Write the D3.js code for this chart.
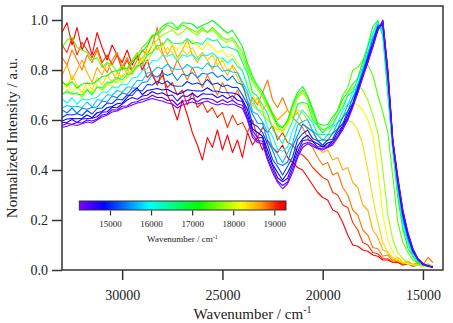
<!DOCTYPE html>
<html><head><meta charset="utf-8">
<script src="https://cdn.jsdelivr.net/npm/d3@7"></script>
<style>
html,body{margin:0;padding:0;background:#fff;}
svg{display:block;font-family:"Liberation Serif","Times New Roman",serif;}
</style></head><body>
<svg id="chart" width="453" height="323"></svg>
<script>
// x grid (cm^-1)
const wavenumber = [33000,32750,32500,32250,32000,31750,31500,31250,31000,30750,
30500,30250,30000,29750,29500,29250,29000,28750,28500,28250,
28000,27750,27500,27250,27000,26750,26500,26250,26000,25750,
25500,25250,25000,24750,24500,24250,24000,23750,23500,23250,
23000,22750,22500,22250,22000,21750,21500,21250,21000,20750,
20500,20250,20000,19750,19500,19250,19000,18750,18500,18250,
18000,17750,17500,17250,17000,16750,16500,16250,16000,15750,
15500,15250,15000,14750,14500];

// colour value (wavenumber) of each spectrum
const excitation = [14253,14450,14650,14850,15100,15400,15700,16000,16500,17050,
17500,17800,18150,18400,18600,18800,19000,19285];

const spec01 = [.570,.575,.582,.578,.585,.592,.588,.600,.612,.620,
.632,.636,.646,.652,.660,.668,.672,.680,.686,.680,
.676,.668,.664,.648,.660,.666,.672,.664,.670,.676,
.666,.660,.666,.660,.664,.656,.646,.600,.530,.510,
.505,.440,.390,.350,.325,.345,.390,.450,.490,.505,
.495,.485,.480,.490,.500,.530,.560,.600,.650,.710,
.770,.830,.890,.960,1.000,.800,.520,.370,.240,.150,
.085,.045,.025,.015,.012];
const spec02 = [.578,.586,.583,.590,.588,.600,.596,.604,.620,.624,
.641,.640,.655,.656,.670,.673,.683,.686,.699,.690,
.690,.678,.680,.659,.676,.677,.687,.673,.685,.686,
.682,.670,.681,.670,.679,.664,.659,.606,.543,.516,
.516,.446,.402,.356,.338,.352,.404,.458,.503,.510,
.504,.486,.487,.491,.507,.531,.568,.602,.657,.709,
.775,.830,.896,.958,.996,.800,.516,.370,.235,.150,
.083,.045,.025,.016,.012];
const spec03 = [.590,.590,.602,.590,.604,.606,.607,.613,.631,.633,
.651,.649,.664,.680,.690,.683,.696,.699,.714,.704,
.709,.697,.700,.676,.697,.694,.707,.691,.705,.703,
.703,.689,.699,.685,.697,.679,.674,.619,.558,.529,
.530,.459,.417,.369,.353,.367,.421,.473,.518,.521,
.514,.492,.494,.496,.515,.537,.576,.608,.663,.712,
.780,.833,.902,.960,.994,.786,.519,.358,.236,.140,
.085,.042,.027,.014,.013];
const spec04 = [.596,.604,.606,.605,.607,.620,.609,.629,.634,.649,
.654,.665,.668,.690,.712,.728,.701,.718,.722,.726,
.720,.723,.712,.703,.709,.721,.718,.716,.716,.729,
.716,.715,.710,.709,.708,.703,.682,.640,.565,.550,
.535,.480,.424,.390,.360,.389,.430,.495,.525,.539,
.515,.505,.492,.508,.515,.551,.576,.621,.661,.723,
.777,.844,.900,.969,.986,.787,.509,.360,.224,.143,
.076,.046,.021,.018,.010];
const spec05 = [.610,.622,.620,.625,.618,.638,.624,.646,.648,.668,
.666,.684,.680,.700,.698,.720,.716,.742,.740,.755,
.744,.756,.738,.735,.736,.754,.743,.748,.740,.762,
.742,.748,.734,.740,.730,.731,.700,.663,.585,.574,
.550,.504,.442,.414,.380,.415,.452,.522,.545,.560,
.526,.517,.499,.520,.523,.564,.585,.635,.668,.731,
.780,.854,.905,.975,.980,.778,.505,.353,.217,.138,
.073,.044,.022,.017,.011];
const spec06 = [.641,.628,.648,.627,.647,.643,.650,.652,.676,.672,
.696,.689,.708,.703,.728,.728,.750,.753,.781,.771,
.789,.778,.787,.758,.784,.777,.790,.768,.787,.783,
.791,.771,.779,.758,.776,.749,.741,.677,.623,.587,
.586,.517,.480,.427,.418,.431,.494,.539,.583,.569,
.554,.517,.521,.518,.547,.564,.610,.635,.689,.726,
.799,.849,.926,.968,.979,.760,.506,.337,.215,.125,
.075,.038,.024,.014,.012];
const spec07 = [.648,.658,.653,.655,.650,.672,.652,.681,.679,.701,
.699,.718,.711,.732,.732,.759,.757,.788,.792,.811,
.805,.823,.806,.803,.804,.822,.808,.812,.804,.827,
.811,.817,.795,.800,.792,.789,.752,.713,.634,.623,
.593,.553,.490,.463,.429,.469,.508,.579,.594,.602,
.556,.540,.518,.541,.545,.588,.609,.660,.685,.745,
.792,.869,.921,.984,.962,.760,.491,.339,.197,.128,
.066,.041,.021,.017,.011];
const spec08 = [.684,.668,.689,.663,.684,.681,.685,.690,.713,.710,
.733,.728,.744,.741,.768,.771,.797,.806,.838,.836,
.858,.855,.863,.835,.861,.854,.863,.842,.859,.858,
.869,.849,.848,.828,.845,.814,.798,.732,.680,.642,
.634,.572,.534,.482,.475,.492,.558,.603,.640,.616,
.588,.542,.543,.541,.572,.590,.638,.663,.710,.740,
.812,.866,.944,.979,.962,.736,.494,.318,.196,.111,
.066,.035,.023,.014,.012];
const spec09 = [.704,.711,.707,.704,.700,.722,.701,.732,.729,.752,
.749,.771,.760,.782,.787,.817,.820,.859,.870,.898,
.899,.926,.908,.906,.908,.926,.906,.910,.902,.928,
.917,.921,.889,.893,.885,.877,.830,.786,.711,.696,
.659,.626,.563,.536,.506,.551,.595,.664,.671,.664,
.602,.574,.548,.571,.580,.623,.648,.697,.714,.764,
.811,.892,.946,.996,.940,.728,.475,.314,.172,.109,
.055,.036,.019,.017,.011];
const spec10 = [.752,.738,.754,.727,.744,.747,.744,.757,.774,.777,
.794,.797,.804,.807,.834,.847,.874,.897,.934,.947,
.974,.987,.989,.967,.989,.987,.984,.967,.979,.987,
.998,.982,.964,.947,.959,.927,.894,.827,.774,.737,
.714,.667,.624,.577,.569,.597,.664,.712,.734,.697,
.644,.587,.579,.582,.614,.637,.684,.712,.744,.767,
.834,.897,.974,.998,.934,.697,.474,.287,.164,.087,
.054,.027,.022,.013,.013];
const spec11 = [.89,.92,.93,.89,.88,.87,.84,.85,.81,.83,
.82,.79,.82,.80,.84,.86,.89,.91,.94,.94,
.96,.98,.97,.96,.98,.97,.96,.95,.97,.95,
.97,.95,.93,.92,.93,.90,.87,.81,.76,.73,
.70,.66,.62,.585,.57,.60,.655,.70,.72,.69,
.63,.58,.56,.57,.60,.64,.70,.73,.80,.81,
.84,.82,.78,.70,.63,.55,.37,.19,.11,.07,
.04,.03,.02,.02,.015];
const spec12 = [.70,.72,.70,.71,.69,.72,.70,.73,.72,.74,
.76,.75,.78,.77,.80,.82,.85,.87,.90,.92,
.94,.95,.96,.94,.95,.97,.95,.94,.96,.95,
.96,.94,.92,.91,.92,.89,.85,.80,.75,.72,
.69,.65,.61,.57,.555,.585,.64,.69,.71,.68,
.62,.575,.55,.56,.58,.62,.66,.70,.73,.74,
.72,.68,.62,.55,.40,.22,.12,.07,.045,.03,
.025,.02,.02,.015,.015];
const spec13 = [.72,.75,.71,.74,.70,.73,.71,.74,.72,.75,
.73,.76,.75,.77,.79,.81,.84,.86,.88,.90,
.89,.92,.90,.88,.91,.89,.92,.90,.88,.91,
.89,.87,.88,.85,.86,.83,.79,.75,.70,.67,
.64,.61,.58,.555,.55,.58,.62,.66,.67,.64,
.59,.55,.52,.53,.55,.59,.62,.65,.67,.66,
.64,.60,.54,.40,.22,.12,.07,.045,.03,.025,
.02,.02,.015,.015,.012];
const spec14 = [.76,.73,.78,.74,.71,.75,.72,.77,.74,.78,
.75,.79,.77,.80,.78,.82,.85,.83,.87,.90,
.86,.89,.87,.84,.88,.86,.89,.85,.87,.84,
.86,.82,.84,.80,.81,.77,.73,.70,.66,.64,
.62,.60,.58,.56,.57,.59,.62,.64,.63,.60,
.56,.52,.49,.50,.53,.56,.59,.60,.59,.56,
.50,.40,.29,.19,.11,.07,.05,.035,.03,.025,
.02,.02,.015,.015,.012];
const spec15 = [.78,.82,.76,.80,.84,.79,.75,.81,.78,.83,
.79,.76,.82,.78,.84,.87,.83,.89,.94,.88,
.91,.86,.90,.85,.88,.92,.86,.83,.87,.84,
.80,.85,.81,.78,.82,.79,.74,.70,.66,.69,
.64,.67,.63,.60,.62,.64,.61,.63,.59,.56,
.52,.49,.47,.48,.44,.45,.40,.41,.35,.33,
.26,.24,.16,.13,.08,.07,.04,.05,.03,.035,
.02,.03,.02,.025,.015];
const spec16 = [.85,.82,.88,.84,.80,.86,.83,.88,.82,.79,
.84,.87,.81,.85,.80,.84,.88,.86,.90,.97,
.87,.83,.79,.84,.80,.76,.81,.77,.73,.78,
.74,.70,.75,.71,.68,.72,.67,.64,.69,.66,
.71,.76,.68,.65,.69,.64,.61,.59,.57,.53,
.49,.45,.42,.43,.38,.39,.33,.30,.24,.22,
.16,.14,.09,.085,.055,.06,.035,.04,.025,.035,
.02,.03,.02,.05,.03];
const spec17 = [.90,.87,.93,.86,.91,.88,.85,.89,.83,.86,
.82,.86,.80,.84,.79,.81,.83,.77,.79,.74,
.78,.73,.75,.70,.72,.66,.71,.65,.67,.63,
.65,.61,.63,.57,.62,.58,.59,.55,.60,.53,
.57,.55,.58,.52,.55,.51,.50,.47,.46,.44,
.41,.39,.37,.36,.31,.30,.26,.25,.19,.16,
.11,.10,.07,.065,.045,.045,.03,.035,.02,.03,
.02,.025,.015,.02,.015];
const spec18 = [.95,.99,.90,.97,.88,.93,.86,.95,.89,.84,
.90,.86,.83,.88,.82,.86,.80,.84,.78,.74,
.80,.70,.66,.60,.68,.62,.55,.50,.44,.53,
.49,.56,.48,.54,.47,.52,.45,.55,.50,.53,
.48,.52,.49,.47,.50,.45,.43,.41,.40,.37,
.34,.31,.29,.28,.24,.23,.19,.14,.10,.095,
.08,.075,.06,.055,.04,.04,.03,.03,.02,.025,
.015,.02,.015,.015,.012];

const spectra = [spec01,spec02,spec03,spec04,spec05,spec06,spec07,spec08,spec09,
spec10,spec11,spec12,spec13,spec14,spec15,spec16,spec17,spec18];

const xTicks = [30000,25000,20000,15000];
const yTicks = [0,0.2,0.4,0.6,0.8,1.0];
const cbTicks = [15000,16000,17000,18000,19000];
const cbDomain = [14253,14850,15950,17150,18200,18700,19150,19285];
const cbColors = ["#7f00ff","#0000ff","#00ffff","#00ff00","#ffff00","#ff9900","#ff0000","#ff0000"];

const svg = d3.select("#chart");
const x = d3.scaleLinear().domain([33000,14000]).range([62,443]);
const y = d3.scaleLinear().domain([0,1.056]).range([270,6]);
const color = d3.scaleLinear().domain(cbDomain).range(cbColors).interpolate(d3.interpolateRgb);

const defs = svg.append("defs");
defs.append("clipPath").attr("id","clip").append("rect")
  .attr("x",x.range()[0]).attr("y",y.range()[1])
  .attr("width",x.range()[1]-x.range()[0]).attr("height",y.range()[0]-y.range()[1]);

const line = d3.line().x((d,i)=>x(wavenumber[i])).y(d=>y(d));
const series = spectra.map((s,k)=>({values:s, c:excitation[k]}));
svg.append("g").attr("clip-path","url(#clip)")
  .selectAll("path").data(series.slice().reverse()).join("path")
  .attr("d",d=>line(d.values))
  .attr("fill","none")
  .attr("stroke",d=>color(d.c))
  .attr("stroke-width",1.1)
  .attr("stroke-linejoin","round");

// axes
const yAxis = d3.axisLeft(y).tickValues(yTicks).tickSize(10).tickPadding(4).tickFormat(d3.format(".1f"));
const gy = svg.append("g").attr("transform",`translate(${x.range()[0]},0)`).call(yAxis);
gy.select(".domain").remove();
const xAxis = d3.axisBottom(x).tickValues(xTicks).tickSize(10).tickPadding(10).tickFormat(d3.format("d"));
const gx = svg.append("g").attr("transform",`translate(0,${y.range()[0]})`).call(xAxis);
gx.select(".domain").remove();
[gx,gy].forEach(g=>{
  g.attr("font-family","Liberation Serif, Times New Roman, serif").attr("font-size",14);
  g.selectAll(".tick line").attr("stroke","#333").attr("stroke-width",1.5);
  g.selectAll(".tick text").attr("fill","#222");
});

// frame
svg.append("rect")
  .attr("x",x.range()[0]).attr("y",y.range()[1])
  .attr("width",x.range()[1]-x.range()[0]).attr("height",y.range()[0]-y.range()[1])
  .attr("fill","none").attr("stroke","#333").attr("stroke-width",1.5);

// titles
const xt = svg.append("text").attr("x",252.5).attr("y",319)
  .attr("text-anchor","middle").attr("font-size",15).attr("fill","#222");
xt.append("tspan").text("Wavenumber / cm");
xt.append("tspan").attr("dy",-6).attr("font-size",10).text("-1");

svg.append("text").attr("transform","translate(17,138) rotate(-90)")
  .attr("text-anchor","middle").attr("font-size",15).attr("fill","#222")
  .text("Normalized Intensity / a.u.");

// colour bar
const cb = d3.scaleLinear().domain([cbDomain[0],cbDomain[cbDomain.length-1]]).range([79.3,286]);
const grad = defs.append("linearGradient").attr("id","cbgrad").attr("x1","0%").attr("x2","100%").attr("y1","0%").attr("y2","0%");
d3.range(0,1.0001,0.02).forEach(t=>{
  grad.append("stop").attr("offset",(t*100)+"%")
    .attr("stop-color",color(cb.domain()[0]+t*(cb.domain()[1]-cb.domain()[0])));
});
svg.append("rect").attr("x",cb.range()[0]).attr("y",201).attr("width",cb.range()[1]-cb.range()[0]).attr("height",9)
  .attr("fill","url(#cbgrad)").attr("stroke","#333").attr("stroke-width",1);
const cbAxis = d3.axisBottom(cb).tickValues(cbTicks).tickSize(5).tickPadding(5).tickFormat(d3.format("d"));
const gcb = svg.append("g").attr("transform","translate(0,210.5)").call(cbAxis);
gcb.select(".domain").remove();
gcb.attr("font-family","Liberation Serif, Times New Roman, serif").attr("font-size",9);
gcb.selectAll(".tick line").attr("stroke","#333").attr("stroke-width",1.2);
gcb.selectAll(".tick text").attr("fill","#222");
const cbt = svg.append("text").attr("x",182.5).attr("y",242)
  .attr("text-anchor","middle").attr("font-size",9).attr("fill","#222");
cbt.append("tspan").text("Wavenumber / cm");
cbt.append("tspan").attr("dy",-3).attr("font-size",6).text("-1");
</script>
</body></html>
